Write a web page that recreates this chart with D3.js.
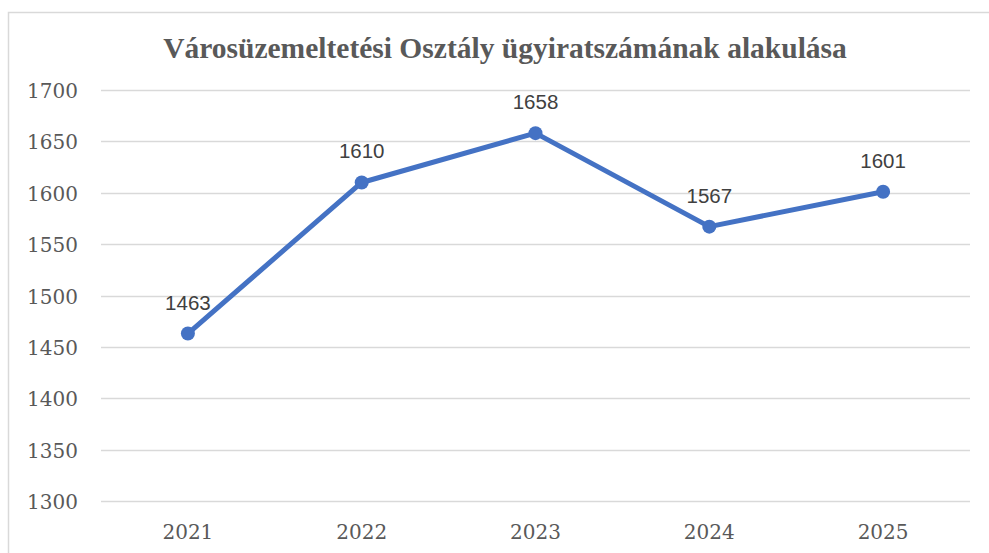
<!DOCTYPE html>
<html>
<head>
<meta charset="utf-8">
<script src="https://cdn.jsdelivr.net/npm/d3@7"></script>
<style>
  html, body { margin: 0; padding: 0; background: #fff; }
  svg { display: block; }
</style>
</head>
<body>
<svg id="chart" width="989" height="553"></svg>
<script>
// Yearly document counts
const years = ["2021", "2022", "2023", "2024", "2025"];
const counts = [1463, 1610, 1658, 1567, 1601];
const yTicks = [1300, 1350, 1400, 1450, 1500, 1550, 1600, 1650, 1700];
const title = "Városüzemeltetési Osztály ügyiratszámának alakulása";

const svg = d3.select("#chart");
const plot = { left: 101, right: 970, top: 90, bottom: 501 };

// Outer frame of the chart area
svg.append("rect")
  .attr("x", 8.5).attr("y", 12.5)
  .attr("width", 1000).attr("height", 600)
  .attr("fill", "#fff")
  .attr("stroke", "#d9d9d9").attr("stroke-width", 1.5);

const x = d3.scaleBand().domain(years).range([plot.left, plot.right]);
const y = d3.scaleLinear().domain([1300, 1700]).range([plot.bottom, plot.top]);

// Horizontal gridlines
svg.append("g")
  .selectAll("line")
  .data(yTicks)
  .join("line")
  .attr("x1", plot.left).attr("x2", plot.right)
  .attr("y1", d => Math.round(y(d)) + 0.5)
  .attr("y2", d => Math.round(y(d)) + 0.5)
  .attr("stroke", "#d9d9d9").attr("stroke-width", 1.5);

// Y axis labels
const yAxis = d3.axisLeft(y).tickValues(yTicks).tickFormat(d3.format("d")).tickSize(0).tickPadding(0);
const gy = svg.append("g").attr("transform", `translate(${plot.left - 23},0)`).call(yAxis);
gy.select(".domain").remove();
gy.selectAll("text")
  .attr("dy", "0.38em")
  .attr("fill", "#595959")
  .style("font-family", "'DejaVu Serif', serif")
  .style("font-size", "20px");

// X axis labels
const xAxis = d3.axisBottom(x).tickSize(0).tickPadding(0);
const gx = svg.append("g").attr("transform", `translate(0,${plot.bottom + 38})`).call(xAxis);
gx.select(".domain").remove();
gx.selectAll("text")
  .attr("dy", "0")
  .attr("fill", "#595959")
  .style("font-family", "'DejaVu Serif', serif")
  .style("font-size", "20px");

// Title
svg.append("text")
  .attr("x", 505).attr("y", 58)
  .attr("text-anchor", "middle")
  .attr("fill", "#595959")
  .style("font-family", "'Liberation Serif', 'Times New Roman', serif")
  .style("font-weight", "bold")
  .style("font-size", "29.5px")
  .text(title);

const pts = years.map((yr, i) => ({ yr, v: counts[i] }));
const cx = d => x(d.yr) + x.bandwidth() / 2;

// Series line
svg.append("path")
  .datum(pts)
  .attr("fill", "none")
  .attr("stroke", "#4472c4")
  .attr("stroke-width", 5)
  .attr("stroke-linejoin", "round")
  .attr("d", d3.line().x(cx).y(d => y(d.v)));

// Markers
svg.append("g")
  .selectAll("circle")
  .data(pts)
  .join("circle")
  .attr("cx", cx)
  .attr("cy", d => y(d.v))
  .attr("r", 7)
  .attr("fill", "#4472c4");

// Value labels above each point
svg.append("g")
  .selectAll("text")
  .data(pts)
  .join("text")
  .attr("x", cx)
  .attr("y", d => y(d.v) - 24)
  .attr("text-anchor", "middle")
  .attr("fill", "#404040")
  .style("font-family", "'Liberation Sans', Arial, sans-serif")
  .style("font-size", "20.5px")
  .text(d => d.v);
</script>
</body>
</html>
